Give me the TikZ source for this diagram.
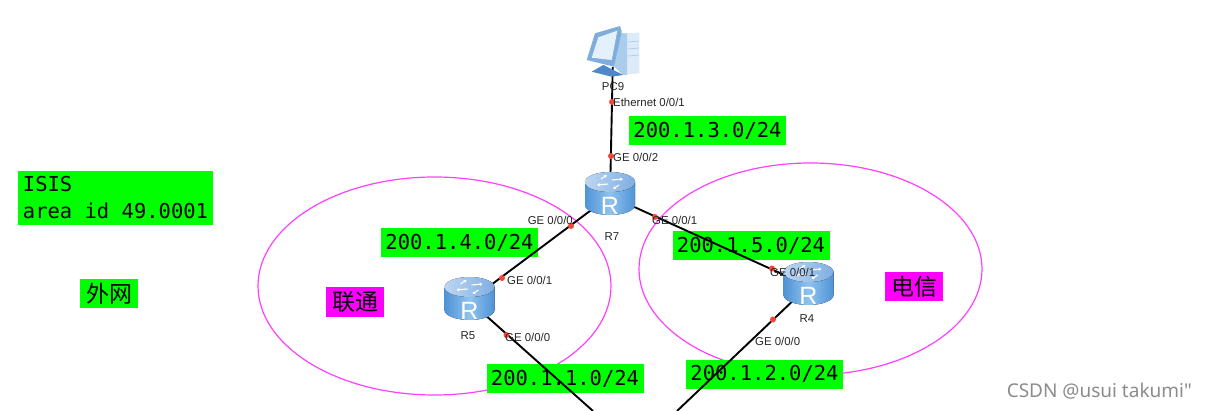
\documentclass[tikz,border=0pt]{standalone}
\usepackage{fontspec}
\setsansfont{Liberation Sans}
\setmonofont{DejaVu Sans Mono}
\newfontfamily\cjk{Noto Sans CJK SC}
\newfontfamily\markfont{Noto Sans}
\usetikzlibrary{
	arrows.meta,
	positioning
}
\definecolor{netgreen}{HTML}{00FF00}
\definecolor{ispmagenta}{HTML}{FF00FF}
\definecolor{arealine}{HTML}{FF40FF}
\definecolor{portred}{HTML}{F4473A}
\definecolor{routerdark}{HTML}{4F93D6}
\definecolor{routermid}{HTML}{8FC3EE}
\definecolor{routertopa}{HTML}{BCD6F2}
\definecolor{routertopb}{HTML}{7FAEE2}
\definecolor{pcframe}{HTML}{7FAEDC}
\definecolor{pcscreen}{HTML}{E4F0FB}
\definecolor{pcside}{HTML}{A9CDEB}
\definecolor{pcfront}{HTML}{DCEBF7}
\definecolor{pcbase}{HTML}{4F88C6}

\begin{document}
\begin{tikzpicture}[
	x=1pt, y=-1pt,
	area/.style={arealine, line width=1.2pt},
	link/.style={black, line width=1.9pt},
	net/.style={fill=netgreen, text=black, inner sep=0pt, font=\ttfamily\fontsize{20.5}{27}\selectfont, minimum width=157pt, minimum height=29pt},
	isp/.style={fill=ispmagenta, text=black, inner sep=0pt, font=\cjk\fontsize{23}{23}\selectfont, minimum width=58pt, minimum height=29pt},
	device/.style={inner sep=0pt, minimum size=24pt},
	port/.style={circle, fill=portred, inner sep=0pt, minimum size=6pt},
	small/.style={inner sep=0pt, text=black!85, font=\sffamily\fontsize{11.4}{12}\selectfont},
	arrowmark/.style={white, line width=1.1pt, -{Stealth[length=3pt, width=3.5pt]}},
	pics/router/.style={code={
		\fill[left color=routerdark, right color=routerdark, middle color=routermid]
			(-25,-14) -- (-25,9) arc[start angle=180, end angle=0, x radius=25, y radius=10] -- (25,-14) -- cycle;
		\fill[left color=routertopa, right color=routertopb] (0,-14) ellipse[x radius=25, y radius=10];
		\draw[arrowmark] (-2,-12) -- (-13,-11);
		\draw[arrowmark] (2,-16) -- (13,-17);
		\draw[arrowmark] (-9,-17) -- (-3,-21);
		\draw[arrowmark] (9,-11) -- (3,-7);
		\node[inner sep=0pt, text=white, font=\sffamily\fontsize{25}{25}\selectfont] (letter) at (0,9.5) {R};
	}},
	pics/computer/.style={code={
		% 主机
		\fill[pcfront] (7,-16.7) -- (26.3,-17.3) -- (26.3,23.3) -- (10.3,25) -- (1,16.7) -- cycle;
		\fill[pcside] (7,-16.7) -- (14,-16.7) -- (14,25) -- (10.3,25) -- (1,16.7) -- cycle;
		\draw[pcside, line width=0.7pt] (15,-8) -- (26,-9) (15,-1) -- (26,-2) (15,6) -- (26,5);
		% 底座
		\fill[pcbase] (-21.3,21.7) -- (-9.7,15) -- (10.3,25) -- (-1.3,26.7) -- cycle;
		% 显示器
		\fill[pcframe] (-26.3,10) -- (-18,-16.7) -- (7,-24) -- (8.7,-18.3) -- (1,16.7) -- cycle;
		\fill[pcscreen] (-21.3,7.7) -- (-14.7,-12.7) -- (4.3,-19.3) -- (-1.3,10) -- cycle;
	}}
]
	\useasboundingbox[fill=white] (0,0) rectangle (1206,411);
	% 区域
	\draw[area] (434.5,286) ellipse[x radius=176.5, y radius=109];
	\draw[area] (810.5,269) ellipse[x radius=171.5, y radius=106];
	% 网段
	\node[net] (net3) at (707.5,130.5) {200.1.3.0/24};
	\node[net] (net5) at (751,246)     {200.1.5.0/24};
	\node[net] (net4) at (459.5,243)   {200.1.4.0/24};
	\node[net] (net1) at (565,378.5)   {200.1.1.0/24};
	\node[net] (net2) at (764.5,374)   {200.1.2.0/24};
	\node[net, minimum width=195pt, minimum height=54pt, align=left] (isis) at (115.5,198) {ISIS\\area id 49.0001};
	\node[isp, fill=netgreen] (outer) at (109,293.5) {外网};
	\node[isp] (unicom)  at (355,302)   {联通};
	\node[isp] (telecom) at (914,286.5) {电信};
	% 设备
	\node[device] (pc9) at (613,55) {};
	\node[device] (r7) at (610,196) {};
	\node[device] (r5) at (469.5,301) {};
	\node[device] (r4) at (808.5,286) {};
	\coordinate (r5-out) at (593,411);
	\coordinate (r4-out) at (677,411);
	% 连线
	\draw[link] (pc9) -- (r7);
	\draw[link] (r7) -- (r5);
	\draw[link] (r7) -- (r4);
	\draw[link] (r5) -- (r5-out);
	\draw[link] (r4) -- (r4-out);
	% 图标
	\pic at (613,50) {computer};
	\pic at (r7) {router};
	\pic at (r5) {router};
	\pic at (r4) {router};
	% 接口
	\node[port] (p1) at (612,102) {};
	\node[port] (p2) at (611,156) {};
	\node[port] (p3) at (571,226) {};
	\node[port] (p4) at (502,278) {};
	\node[port] (p5) at (506.5,335) {};
	\node[port] (p6) at (655,217) {};
	\node[port] (p7) at (772,268.5) {};
	\node[port] (p8) at (773,319.5) {};
	% 标注
	\node[small] (pc9-name) at (613,87)  {PC9};
	\node[small] (r7-name)  at (612,237) {R7};
	\node[small] (r5-name)  at (468,336) {R5};
	\node[small] (r4-name)  at (807,319) {R4};
	\node[small, anchor=west] (eth)   at (613,102) {Ethernet 0/0/1};
	\node[small, anchor=west] (r7-g2) at (613,157) {GE 0/0/2};
	\node[small, anchor=west] (r7-g1) at (652,220) {GE 0/0/1};
	\node[small, anchor=east] (r7-g0) at (573,220) {GE 0/0/0};
	\node[small, anchor=west] (r5-g1) at (507,280) {GE 0/0/1};
	\node[small, anchor=west] (r5-g0) at (505,337) {GE 0/0/0};
	\node[small, anchor=west] (r4-g1) at (770,272) {GE 0/0/1};
	\node[small, anchor=west] (r4-g0) at (755,341) {GE 0/0/0};
	% 水印
	\node[inner sep=0pt, anchor=east, text=black!45, font=\markfont\fontsize{19}{19}\selectfont] (mark) at (1192,391) {CSDN @usui takumi"};
\end{tikzpicture}
\end{document}
